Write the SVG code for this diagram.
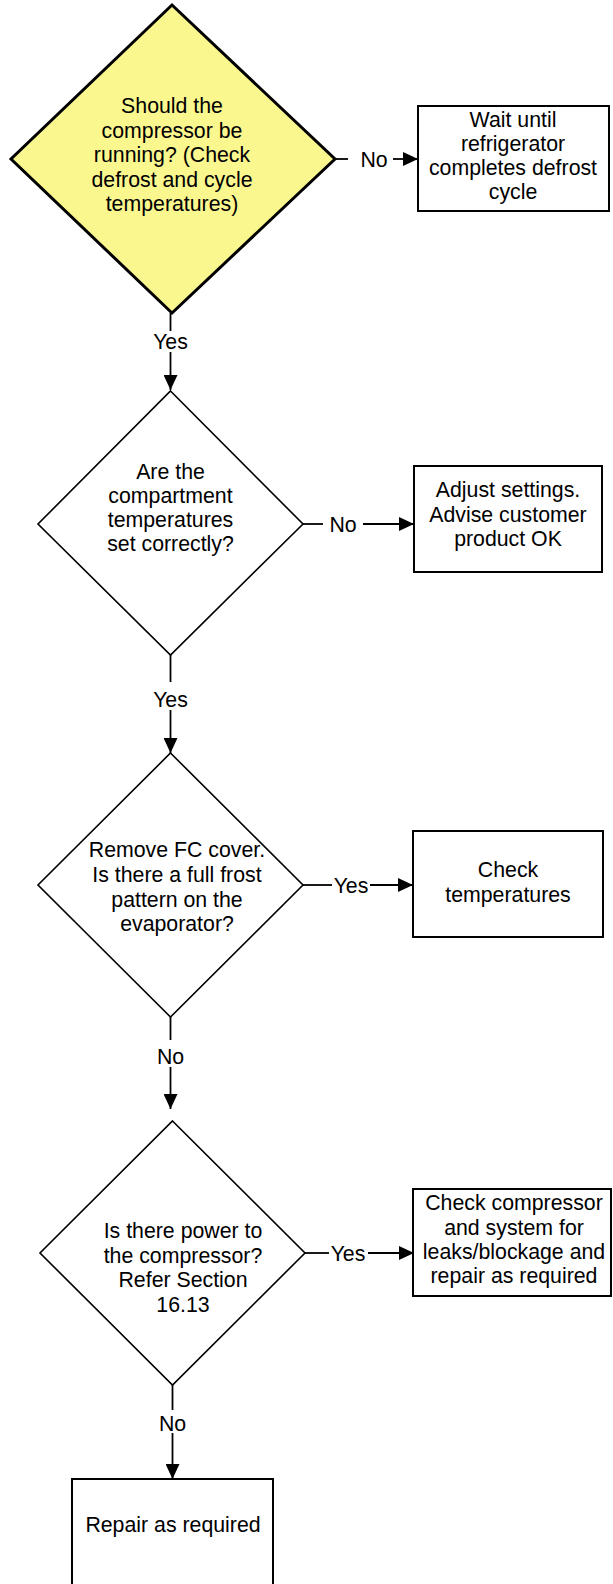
<svg xmlns="http://www.w3.org/2000/svg" width="613" height="1584" viewBox="0 0 613 1584">
<style>
text{font-family:"Liberation Sans",Arial,sans-serif;font-size:21.3px;fill:#000;text-anchor:middle}
.dec{fill:#fff;stroke:#000;stroke-width:1.6}
.dec1{fill:#FBF78F;stroke:#000;stroke-width:3}
.box{fill:#fff;stroke:#000;stroke-width:2}
.ln{stroke:#000;stroke-width:1.8;fill:none}
</style>
<defs>
<marker id="arr" viewBox="0 0 15 14" refX="15" refY="7" markerWidth="15" markerHeight="14" markerUnits="userSpaceOnUse" orient="auto">
<path d="M0,0 L15,7 L0,14 Z" fill="#000"/>
</marker>
</defs>
<rect width="613" height="1584" fill="#fff"/>
<g id="connectors">
<line class="ln" x1="335" y1="159" x2="348" y2="159"/>
<line class="ln" x1="393" y1="159" x2="418" y2="159" marker-end="url(#arr)"/>
<text x="374" y="166.5">No</text>
<line class="ln" x1="170.5" y1="313" x2="170.5" y2="331"/>
<line class="ln" x1="170.5" y1="352" x2="170.5" y2="390" marker-end="url(#arr)"/>
<text x="170.5" y="349">Yes</text>
<line class="ln" x1="303" y1="524" x2="323" y2="524"/>
<line class="ln" x1="363" y1="524" x2="414" y2="524" marker-end="url(#arr)"/>
<text x="343" y="531.5">No</text>
<line class="ln" x1="170.5" y1="655" x2="170.5" y2="682"/>
<line class="ln" x1="170.5" y1="710" x2="170.5" y2="753" marker-end="url(#arr)"/>
<text x="170.5" y="706.5">Yes</text>
<line class="ln" x1="303" y1="885" x2="332" y2="885"/>
<line class="ln" x1="370" y1="885" x2="413" y2="885" marker-end="url(#arr)"/>
<text x="351" y="892.5">Yes</text>
<line class="ln" x1="170.5" y1="1017" x2="170.5" y2="1040"/>
<line class="ln" x1="170.5" y1="1067" x2="170.5" y2="1109" marker-end="url(#arr)"/>
<text x="170.5" y="1063.5">No</text>
<line class="ln" x1="305" y1="1253" x2="329" y2="1253"/>
<line class="ln" x1="368" y1="1253" x2="414" y2="1253" marker-end="url(#arr)"/>
<text x="348" y="1260.5">Yes</text>
<line class="ln" x1="172.5" y1="1385" x2="172.5" y2="1410"/>
<line class="ln" x1="172.5" y1="1433" x2="172.5" y2="1479" marker-end="url(#arr)"/>
<text x="172.5" y="1430.5">No</text>
</g>
<g id="d1">
<polygon class="dec1" points="172,5 335,159 172,313 11,159"/>
<text x="172" y="113">Should the</text>
<text x="172" y="137.5">compressor be</text>
<text x="172" y="162">running? (Check</text>
<text x="172" y="186.5">defrost and cycle</text>
<text x="172" y="211">temperatures)</text>
</g>
<g id="b1">
<rect class="box" x="418" y="106" width="191" height="105"/>
<text x="513" y="127">Wait until</text>
<text x="513" y="151">refrigerator</text>
<text x="513" y="175">completes defrost</text>
<text x="513" y="199">cycle</text>
</g>
<g id="d2">
<polygon class="dec" points="170.5,391 303,524 170.5,655 38,524"/>
<text x="170.5" y="479">Are the</text>
<text x="170.5" y="503">compartment</text>
<text x="170.5" y="527">temperatures</text>
<text x="170.5" y="551">set correctly?</text>
</g>
<g id="b2">
<rect class="box" x="414" y="466" width="188" height="106"/>
<text x="508" y="497">Adjust settings.</text>
<text x="508" y="521.5">Advise customer</text>
<text x="508" y="546">product OK</text>
</g>
<g id="d3">
<polygon class="dec" points="170.5,753 303,885 170.5,1017 38,885"/>
<text x="177" y="857">Remove FC cover.</text>
<text x="177" y="882">Is there a full frost</text>
<text x="177" y="907">pattern on the</text>
<text x="177" y="931">evaporator?</text>
</g>
<g id="b3">
<rect class="box" x="413" y="831" width="190" height="106"/>
<text x="508" y="877">Check</text>
<text x="508" y="902">temperatures</text>
</g>
<g id="d4">
<polygon class="dec" points="172.5,1121 305,1253 172.5,1385 40,1253"/>
<text x="183" y="1238">Is there power to</text>
<text x="183" y="1263">the compressor?</text>
<text x="183" y="1287">Refer Section</text>
<text x="183" y="1312">16.13</text>
</g>
<g id="b4">
<rect class="box" x="413" y="1189" width="198" height="107"/>
<text x="514" y="1210">Check compressor</text>
<text x="514" y="1235">and system for</text>
<text x="514" y="1259">leaks/blockage and</text>
<text x="514" y="1283">repair as required</text>
</g>
<g id="b5">
<rect class="box" x="72" y="1479" width="201" height="130"/>
<text x="173" y="1532">Repair as required</text>
</g>
</svg>
